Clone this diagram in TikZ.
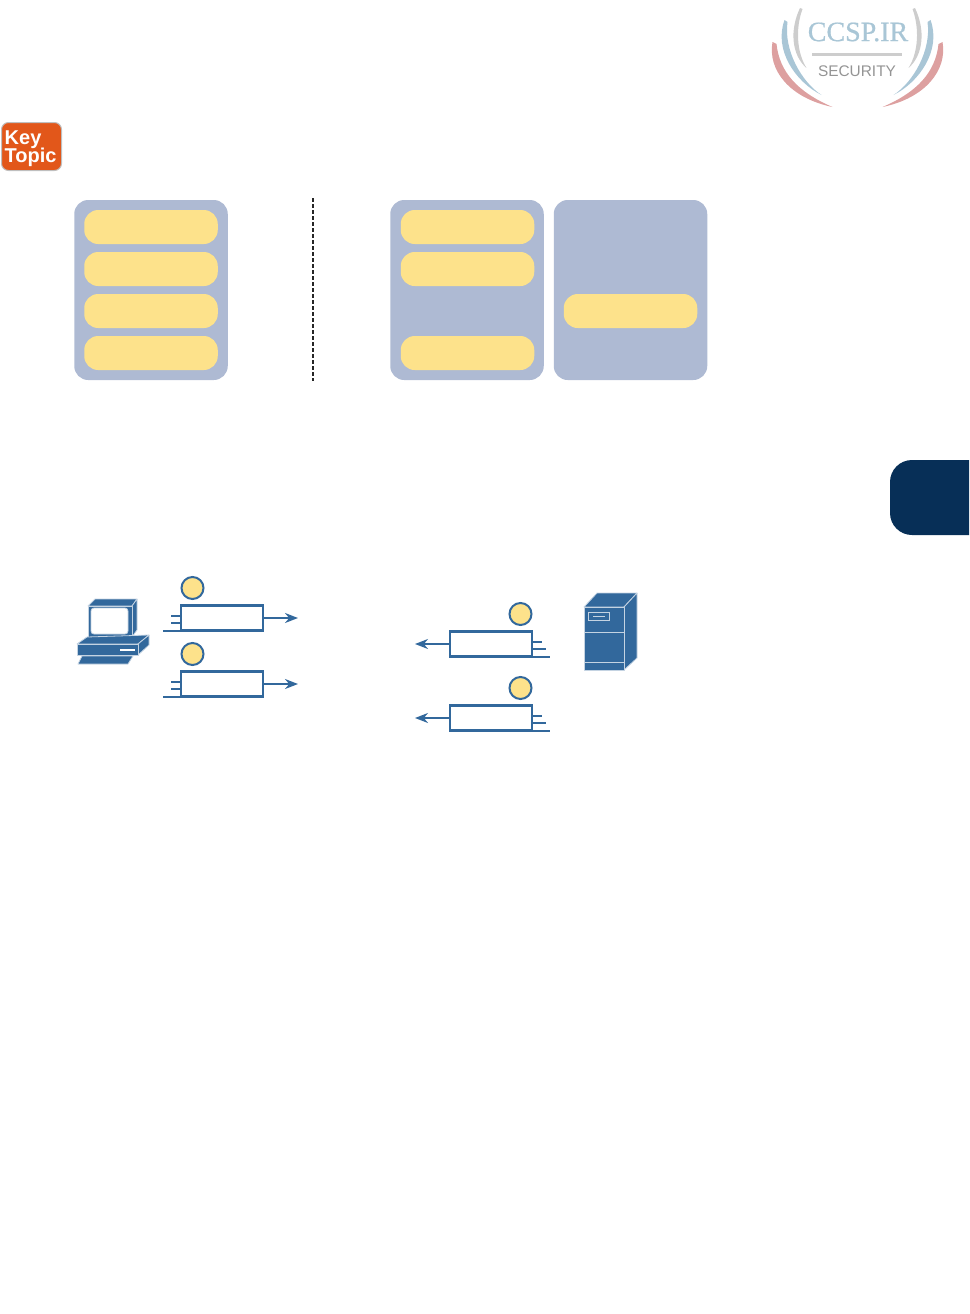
\documentclass[tikz,border=0pt]{standalone}
\usepackage{fontspec}
\setmainfont{Liberation Sans}
\newfontfamily\logoserif[FakeBold=0.6]{Liberation Serif}
\usetikzlibrary{arrows.meta}
\definecolor{panelblue}{HTML}{AEBAD3}
\definecolor{pillyellow}{HTML}{FDE28B}
\definecolor{iconblue}{HTML}{32689C}
\definecolor{iconline}{HTML}{C4D3E2}
\definecolor{tabnavy}{HTML}{072F57}
\definecolor{keyorange}{HTML}{E2571A}
\definecolor{logoblue}{HTML}{A9C6D6}
\definecolor{logored}{HTML}{DDA0A0}
\definecolor{logogray}{HTML}{CDCDCD}
\tikzset{
  panel/.style={fill=panelblue,rounded corners=14pt,draw=none,inner sep=0pt,minimum width=153.5pt,minimum height=180pt},
  pill/.style={fill=pillyellow,rounded corners=14pt,draw=none,inner sep=0pt,minimum width=133.5pt,minimum height=34pt},
  packet/.style={draw=iconblue,line width=2.3pt,fill=white,inner sep=0pt,outer sep=0pt,minimum width=82pt,minimum height=25pt},
  badge/.style={circle,draw=iconblue,line width=2pt,fill=pillyellow,inner sep=0pt,minimum size=22pt},
  tick/.style={draw=iconblue,line width=2pt},
  flow/.style={draw=iconblue,line width=2pt,-{Stealth[length=13pt,width=10pt]}},
  iconface/.style={fill=iconblue,draw=iconline,line width=0.8pt,line join=round},
}
\begin{document}
\begin{tikzpicture}[x=1pt,y=-1pt]
\useasboundingbox (0,0) rectangle (969,1314);
% logo
\foreach \s in {1,-1}{
\begin{scope}[shift={(857.5,0)},xscale=\s]
  \fill[logogray] (-57.5,8) .. controls (-68,30) and (-66,55) .. (-51,68) .. controls (-61,52) and (-62,28) .. (-55,9) -- cycle;
  \fill[logoblue] (-73,20) .. controls (-84,50) and (-62,82) .. (-36,95) .. controls (-56,82) and (-74,50) .. (-70,22) -- cycle;
  \fill[logored] (-85,42) .. controls (-90,70) and (-68,98) .. (-25,107) .. controls (-60,92) and (-78,72) .. (-81,44) -- cycle;
\end{scope}}
\node[inner sep=0pt,text=logoblue,font=\logoserif\fontsize{28}{30}\selectfont] (logotext) at (858,32) {CCSP.IR};
\fill[logogray] (812,53.5) rectangle (902,56.5);
\node[inner sep=0pt,text=black!42,font=\fontsize{15.4}{17}\selectfont] (logosub) at (857,71) {SECURITY};
% key topic
\node[fill=keyorange,draw=black!25,line width=1pt,rounded corners=7pt,inner sep=0pt,minimum width=60pt,minimum height=48pt] (key) at (31.5,146.5) {};
\node[anchor=base west,inner sep=0pt,text=white,font=\bfseries\fontsize{20}{22}\selectfont] (keyA) at (4.5,144) {Key};
\node[anchor=base west,inner sep=0pt,text=white,font=\bfseries\fontsize{20}{22}\selectfont] (keyB) at (4.5,162) {Topic};
% panels
\node[panel] (pa) at (151,290) {};
\node[panel] (pb) at (467,290) {};
\node[panel] (pc) at (630.5,290) {};
\node[pill] (a1) at (151,227) {};
\node[pill] (a2) at (151,269) {};
\node[pill] (a3) at (151,311) {};
\node[pill] (a4) at (151,353) {};
\node[pill] (b1) at (467.5,227) {};
\node[pill] (b2) at (467.5,269) {};
\node[pill] (b4) at (467.5,353) {};
\node[pill] (c3) at (630.5,311) {};
\coordinate (dtop) at (313,198);
\coordinate (dbot) at (313,381);
\draw[black!85,line width=1.2pt,dash pattern=on 3.5pt off 2.5pt] (dtop) -- (dbot);
% tab
\fill[tabnavy] (969,460) -- (912,460) arc[start angle=270,end angle=180,radius=22] -- (890,513) arc[start angle=180,end angle=90,radius=22] -- (969,535) -- cycle;
% PC
\draw[iconface] (88,606) -- (95,599) -- (137,599) -- (132,606) -- cycle;
\draw[iconface] (132,606) -- (137,599) -- (137,630) -- (132,637) -- cycle;
\draw[iconface] (88,606) rectangle (132,637);
\draw[fill=white,draw=iconline,line width=0.8pt,rounded corners=3pt] (91,608) rectangle (128,634);
\draw[iconface] (77,644) -- (87,637) -- (149,635) -- (138,644) -- cycle;
\draw[iconface] (138,644) -- (149,635) -- (149,645) -- (138,655) -- cycle;
\draw[iconface] (77,644) rectangle (138,655);
\fill[white] (120,649) rectangle (135,651);
\draw[iconface] (82,656) -- (133,656) -- (128,664) -- (78,664) -- cycle;
% server
\draw[iconface] (584,607) -- (597,593) -- (637,593) -- (624,607) -- cycle;
\draw[iconface] (624,607) -- (637,593) -- (637,658) -- (624,670) -- cycle;
\draw[iconface] (584,607) rectangle (624,670);
\draw[iconline,line width=0.8pt] (584,632) -- (624,632) (584,662) -- (624,662);
\draw[iconline,line width=0.8pt] (588,612) rectangle (609,620);
\draw[iconline,line width=1pt] (593,616) -- (605,616);
% left packets
\node[packet] (l1) at (222,618) {};
\node[packet] (l2) at (222,684) {};
\node[badge] (lb1) at (192.5,588) {};
\node[badge] (lb2) at (192.5,654) {};
\coordinate (le1) at (298,618);
\coordinate (le2) at (298,684);
\draw[flow] (l1) -- (le1);
\draw[flow] (l2) -- (le2);
\draw[tick] (l1.south west) -- ++(-18,0);
\draw[tick] (l1.west) ++(0,5) -- ++(-10,0);
\draw[tick] (l1.west) ++(0,-2) -- ++(-10,0);
\draw[tick] (l2.south west) -- ++(-18,0);
\draw[tick] (l2.west) ++(0,5) -- ++(-10,0);
\draw[tick] (l2.west) ++(0,-2) -- ++(-10,0);
% right packets
\node[packet] (r1) at (491,644) {};
\node[packet] (r2) at (491,718) {};
\node[badge] (rb1) at (520.5,614) {};
\node[badge] (rb2) at (520.5,688) {};
\coordinate (re1) at (415,644);
\coordinate (re2) at (415,718);
\draw[flow] (r1) -- (re1);
\draw[flow] (r2) -- (re2);
\draw[tick] (r1.south east) -- ++(18,0);
\draw[tick] (r1.east) ++(0,5) -- ++(14,0);
\draw[tick] (r1.east) ++(0,-2) -- ++(10,0);
\draw[tick] (r2.south east) -- ++(18,0);
\draw[tick] (r2.east) ++(0,5) -- ++(14,0);
\draw[tick] (r2.east) ++(0,-2) -- ++(10,0);
\end{tikzpicture}
\end{document}
